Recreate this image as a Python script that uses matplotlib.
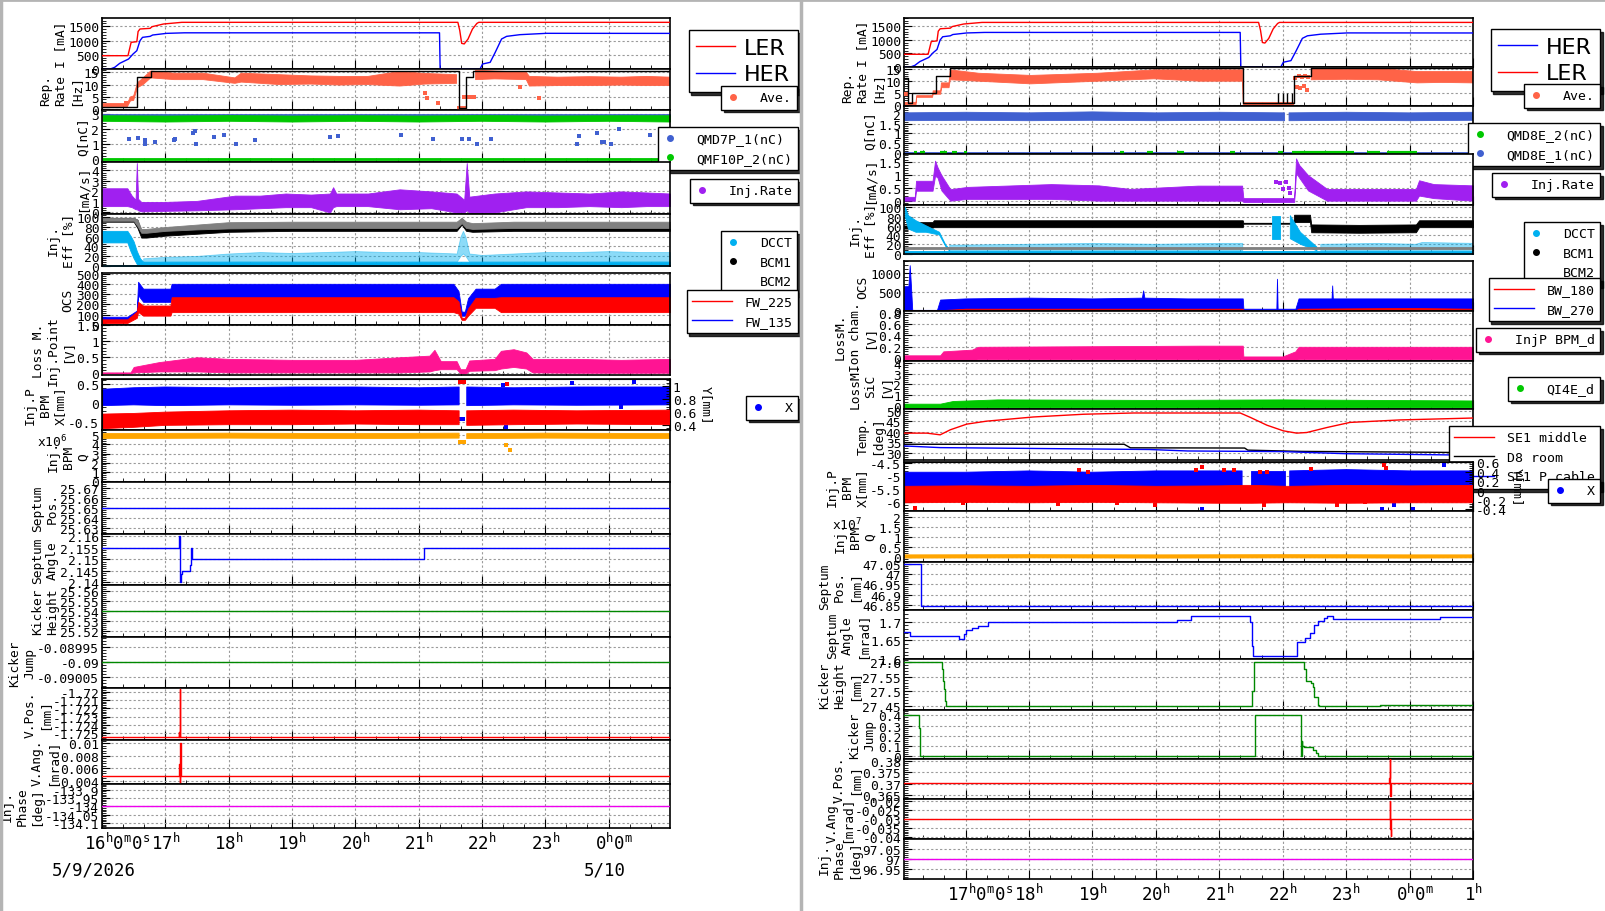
import numpy as np
import matplotlib.pyplot as plt
import matplotlib.transforms as mtrans
from matplotlib.lines import Line2D
from matplotlib.ticker import AutoMinorLocator, FixedLocator, FuncFormatter, MultipleLocator

plt.rcParams['font.family'] = 'DejaVu Sans Mono'
plt.rcParams['mathtext.fontset'] = 'dejavusans'

nan = np.nan

# ---------------- time axes (hours; 24 = 0h of 5/10) ----------------
l_xlim = (16.0, 24.97)
r_xlim = (16.03, 25.0)
l_hours = [16, 17, 18, 19, 20, 21, 22, 23, 24]
l_hour_labels = [r'$\mathtt{16^{h}0^{m}0^{s}}$', r'$\mathtt{17^{h}}$', r'$\mathtt{18^{h}}$',
                 r'$\mathtt{19^{h}}$', r'$\mathtt{20^{h}}$', r'$\mathtt{21^{h}}$',
                 r'$\mathtt{22^{h}}$', r'$\mathtt{23^{h}}$', r'$\mathtt{0^{h}0^{m}}$']
l_date_ticks = [16, 24]
l_dates = ['5/9/2026', '5/10']
r_hours = [17, 18, 19, 20, 21, 22, 23, 24, 25]
r_hour_labels = [r'$\mathtt{17^{h}0^{m}0^{s}}$', r'$\mathtt{18^{h}}$', r'$\mathtt{19^{h}}$',
                 r'$\mathtt{20^{h}}$', r'$\mathtt{21^{h}}$', r'$\mathtt{22^{h}}$',
                 r'$\mathtt{23^{h}}$', r'$\mathtt{0^{h}0^{m}}$', r'$\mathtt{1^{h}}$']

# ---------------- beam currents (both panels) ----------------
t_ler = [16.0, 16.41, 16.46, 16.55, 16.57, 16.6, 16.76, 16.79, 16.97, 17.26, 21.62, 21.65,
         21.68, 21.72, 21.78, 21.85, 21.92, 21.95, 25.0]
i_ler = [467, 467, 936, 958, 1316, 1404, 1427, 1485, 1579, 1638, 1638, 1350,
         900, 880, 1050, 1400, 1600, 1638, 1638]
t_her = [16.0, 16.13, 16.2, 16.28, 16.42, 16.49, 16.55, 16.6, 16.64, 16.76, 16.8, 17.02, 17.3,
         21.33, 21.34, 21.97, 22.01, 22.13, 22.21, 22.26, 22.31, 22.39, 22.6, 23.02, 25.0]
i_her = [0, 0, 58, 199, 351, 526, 643, 994, 1111, 1146, 1193, 1251, 1270,
         1270, 0, 0, 175, 234, 585, 818, 1053, 1146, 1205, 1252, 1250]

# ---------------- LER injection (left) ----------------
l_rep_t = [16.0, 16.4, 16.45, 16.5, 16.56, 16.65, 16.77, 17.14, 17.6, 18.1, 18.2, 18.8, 19.3, 19.75,
           20.2, 20.7, 21.1, 21.6, 21.62, 21.86, 21.9, 22.2, 22.7, 22.75, 23.2, 23.7, 24.2, 24.6, 24.97]
l_rep_lo = [1.0, 1.0, 3.4, 3.6, 8.7, 10.0, 12.7, 12.0, 12.0, 10.5, 11.0, 10.0, 10.2, 9.8,
            10.0, 9.4, 10.2, 10.5, nan, nan, 12.0, 12.3, 12.0, 9.4, 9.6, 9.6, 9.8, 9.6, 9.6]
l_rep_hi = [2.3, 2.3, 5.0, 5.4, 10.7, 12.7, 15.5, 14.6, 14.6, 12.7, 14.6, 14.0, 13.5, 13.3,
            13.3, 15.3, 14.5, 14.0, nan, nan, 15.8, 15.5, 15.0, 13.3, 13.0, 13.2, 13.0, 13.3, 13.0]
l_rep_dot_t = [16.38, 21.1, 21.13, 21.3, 21.64, 21.66, 21.68, 21.7, 21.72, 21.74, 21.72, 21.76,
               21.8, 21.84, 21.88, 22.6, 22.9]
l_rep_dot_v = [2.6, 6.4, 4.7, 2.6, 0.7, 0.7, 0.7, 0.7, 0.7, 0.7, 5.0, 5.0, 5.0, 5.0, 5.0, 9.0, 4.7]
l_set_t = [16.0, 16.55, 16.78, 21.64, 21.75, 21.86, 24.97]
l_set_v = [1.0, 12.9, 15.5, 0.6, 12.9, 15.5, 15.5]

l_q_t = [16.0, 17.0, 18.0, 19.0, 20.0, 21.0, 22.0, 23.0, 24.0, 24.97]
l_qg_lo = [2.55, 2.5, 2.55, 2.5, 2.55, 2.5, 2.55, 2.5, 2.55, 2.5]
l_qg_hi = [2.92, 2.9, 2.93, 2.9, 2.92, 2.9, 2.93, 2.9, 2.92, 2.92]
l_qb_lo = [2.88, 2.89, 2.88, 2.89, 2.88, 2.89, 2.88, 2.89, 2.88, 2.89]
l_qb_hi = [3.0, 3.0, 3.0, 3.0, 3.0, 3.0, 3.0, 3.0, 3.0, 3.0]
l_q0_lo = [-0.05, -0.05, -0.05, -0.05, -0.05, -0.05, -0.05, -0.05, -0.05, -0.05]
l_q0_hi = [0.07, 0.07, 0.07, 0.07, 0.07, 0.07, 0.07, 0.07, 0.07, 0.07]
l_qdot_t = [16.43, 16.57, 16.68, 16.68, 16.83, 17.13, 17.15, 17.44, 17.47, 17.48, 17.77, 17.92, 18.12,
            18.41, 19.6, 19.73, 20.72, 21.23, 21.69, 21.8, 21.92, 22.15, 23.5, 23.54, 23.81, 23.9,
            23.93, 24.04, 24.16, 24.66]
l_qdot_v = [1.33, 1.38, 1.29, 1.0, 1.11, 1.27, 1.31, 1.73, 1.84, 0.98, 1.47, 1.58, 0.98,
            1.27, 1.47, 1.53, 1.62, 1.31, 1.31, 1.31, 0.98, 1.31, 0.98, 1.51, 1.71, 1.11,
            1.11, 0.98, 2.0, 1.58]

l_inj_t = [16.0, 16.4, 16.47, 16.53, 16.55, 16.57, 16.62, 17.0, 17.5, 18.1, 18.5, 18.9, 19.3, 19.6,
           19.65, 19.7, 20.2, 20.7, 21.2, 21.6, 21.72, 21.76, 21.8, 22.2, 22.7, 23.2, 23.7, 24.2,
           24.6, 24.97]
l_inj_lo = [0.6, 0.6, 0.5, 0.3, 0.3, 0.2, 0.1, 0.15, 0.2, 0.3, 0.4, 0.5, 0.5, 0.0,
            0.5, 0.6, 0.6, 0.3, 0.4, 0.0, 0.0, 0.2, 0.0, 0.0, 0.5, 0.5, 0.6, 0.5, 0.6, 0.6]
l_inj_hi = [2.3, 2.3, 1.6, 1.2, 4.7, 1.3, 1.0, 1.0, 1.1, 1.6, 1.6, 1.8, 1.7, 1.8,
            2.4, 1.8, 1.8, 2.2, 2.0, 1.8, 1.2, 4.7, 1.5, 1.8, 2.0, 1.9, 1.8, 2.0, 1.9, 1.8]

l_eff_t = [16.0, 16.5, 16.56, 16.62, 16.7, 17.0, 17.5, 18.0, 19.0, 20.0, 21.0, 21.6, 21.68, 21.75,
           21.85, 22.5, 23.0, 24.0, 24.97]
l_bcm1_lo = [91, 91, 78, 58, 58, 62, 66, 70, 72, 72, 72, 72, 85, 72, 70, 72, 72, 72, 72]
l_bcm1_hi = [99, 99, 95, 70, 70, 74, 80, 85, 87, 87, 87, 87, 98, 88, 84, 87, 87, 87, 87]
l_bcm2_lo = [93, 93, 82, 68, 68, 72, 75, 77, 78, 78, 78, 78, 88, 78, 76, 78, 78, 78, 78]
l_bcm2_hi = [99, 99, 95, 76, 76, 80, 85, 90, 91, 91, 91, 91, 99, 91, 88, 91, 91, 91, 91]
l_dcct_t = [16.0, 16.4, 16.45, 16.5, 16.55, 16.6, 16.65, 24.97]
l_dcct_lo = [48, 48, 30, 15, 3, 0, 0, 0]
l_dcct_hi = [72, 72, 62, 50, 30, 15, 8, 8]
l_dcct0_t = [16.0, 24.97]
l_dcct0_lo = [-1, -1]
l_dcct0_hi = [2, 2]
l_dcct_sp_t = [16.65, 17.0, 17.5, 18.0, 18.5, 19.0, 19.5, 20.0, 20.5, 21.0, 21.6, 21.66, 21.7, 21.74,
               21.8, 22.0, 22.5, 23.0, 23.5, 24.0, 24.5, 24.97]
l_dcct_sp_lo = [6, 8, 8, 8, 9, 8, 8, 9, 8, 8, 8, 20, 25, 20, 8, 8, 8, 9, 8, 8, 9, 8]
l_dcct_sp_hi = [15, 18, 20, 25, 28, 26, 28, 30, 28, 28, 25, 60, 72, 60, 25, 22, 25, 28, 28, 30, 28, 28]

l_ocs_t = [16.0, 16.4, 16.55, 16.57, 16.65, 17.08, 17.1, 21.55, 21.63, 21.68, 21.73, 21.78, 21.9,
           22.2, 22.3, 24.97]
l_fw135_lo = [30, 30, 100, 290, 225, 225, 255, 255, 200, 90, 90, 150, 225, 225, 255, 255]
l_fw135_hi = [80, 80, 140, 420, 353, 353, 400, 400, 330, 130, 130, 260, 353, 353, 400, 400]
l_fw225_lo = [20, 20, 70, 127, 91, 91, 125, 125, 110, 50, 50, 90, 167, 167, 125, 125]
l_fw225_hi = [55, 55, 130, 225, 189, 189, 270, 270, 230, 70, 70, 160, 264, 264, 270, 270]

l_loss_t = [16.0, 16.45, 16.5, 16.9, 17.5, 18.0, 19.0, 20.0, 20.7, 21.17, 21.25, 21.35, 21.6, 21.66,
            21.74, 21.8, 22.2, 22.3, 22.5, 22.7, 22.8, 23.5, 24.2, 24.97]
l_loss_lo = [0.0, 0.0, 0.03, 0.06, 0.06, 0.03, 0.03, 0.03, 0.03, 0.06, 0.1, 0.13, 0.13, 0.0,
             0.0, 0.08, 0.1, 0.15, 0.2, 0.15, 0.03, 0.02, 0.02, 0.02]
l_loss_hi = [0.03, 0.03, 0.2, 0.35, 0.5, 0.45, 0.42, 0.42, 0.5, 0.55, 0.73, 0.38, 0.38, 0.13,
             0.13, 0.4, 0.45, 0.7, 0.75, 0.65, 0.45, 0.45, 0.42, 0.45]

l_bpm_t = [16.0, 16.5, 17.0, 18.0, 19.0, 20.0, 21.0, 21.64, 21.65, 21.75, 21.76, 22.5, 23.5, 24.97]
l_bx_lo = [-0.07, -0.05, -0.07, -0.05, -0.06, -0.05, -0.06, -0.05, nan, nan, -0.07, -0.05, -0.06, -0.05]
l_bx_hi = [0.36, 0.4, 0.42, 0.4, 0.42, 0.42, 0.4, 0.42, nan, nan, 0.42, 0.4, 0.42, 0.42]
l_by_lo = [0.35, 0.37, 0.40, 0.41, 0.41, 0.42, 0.41, 0.41, nan, nan, 0.4, 0.41, 0.42, 0.41]
l_by_hi = [0.57, 0.58, 0.60, 0.62, 0.63, 0.62, 0.63, 0.62, nan, nan, 0.62, 0.63, 0.62, 0.63]
l_bxdot_t = [21.66, 21.7, 22.33, 22.38, 23.42, 24.2, 24.4]
l_bxdot_v = [-0.42, -0.42, 0.47, -0.64, 0.53, -0.11, 0.55]
l_bydot_t = [21.66, 21.69, 21.72, 22.4]
l_bydot_v = [1.05, 1.05, 1.05, 1.02]

l_bq_t = [16.0, 18.0, 20.0, 21.64, 21.65, 21.75, 21.76, 23.0, 24.97]
l_bq_lo = [4.65, 4.7, 4.65, 4.7, nan, nan, 4.65, 4.7, 4.65]
l_bq_hi = [5.2, 5.25, 5.2, 5.25, nan, nan, 5.2, 5.25, 5.2]
l_bqdot_t = [21.66, 21.69, 21.72, 22.38, 22.45]
l_bqdot_v = [4.3, 4.3, 4.3, 3.9, 3.4]

l_flat_t = [16.0, 24.97]
l_sp_v = [25.65, 25.65]
l_sa_t = [16.0, 17.22, 17.23, 17.25, 17.27, 17.39, 17.41, 17.42, 21.08, 24.97]
l_sa_v = [2.155, 2.16, 2.14, 2.1435, 2.145, 2.1475, 2.155, 2.15, 2.155, 2.155]
l_kh_v = [25.54, 25.54]
l_kj_v = [-0.09, -0.09]
l_vp_t = [16.0, 17.21, 17.21, 17.215, 17.215, 17.23, 17.23, 17.23, 24.97]
l_vp_v = [-1.7254, -1.7254, -1.7248, -1.7248, -1.7254, -1.7254, -1.7197, -1.7254, -1.7254]
l_va_t = [16.0, 17.21, 17.21, 17.225, 17.225, 17.235, 17.235, 17.245, 17.245, 24.97]
l_va_v = [0.0048, 0.0048, 0.0066, 0.0066, 0.0035, 0.0035, 0.0101, 0.0101, 0.0048, 0.0048]
l_ph_v = [-134.0, -134.0]

# ---------------- HER injection (right) ----------------
r_rep_t = [16.03, 16.22, 16.23, 16.48, 16.49, 16.61, 16.62, 16.74, 16.76, 17.21, 18.03, 19.08, 19.97,
           20.7, 21.37, 21.38, 22.17, 22.18, 22.43, 22.45, 23.0, 23.5, 24.12, 24.5, 25.0]
r_rep_lo = [0.2, 0.2, 3.3, 3.3, 4.6, 4.6, 7.3, 7.3, 10.6, 10.0, 8.9, 10.0, 11.0,
            10.0, 10.0, 0.0, 0.0, nan, nan, 10.6, 10.8, 10.6, 9.3, 9.5, 9.3]
r_rep_hi = [1.2, 1.2, 4.0, 4.0, 6.0, 6.0, 9.3, 9.3, 14.7, 13.3, 12.4, 13.3, 14.7,
            14.7, 14.7, 1.2, 1.2, nan, nan, 15.4, 15.0, 15.4, 14.0, 14.0, 14.0]
r_rep_dot_t = [16.04, 16.06, 16.08, 22.2, 22.25, 22.3, 22.35, 22.4, 22.22, 22.28, 22.33, 22.38]
r_rep_dot_v = [4.8, 4.8, 4.8, 11.5, 12.0, 11.8, 12.2, 11.6, 7.5, 7.0, 8.0, 6.5]
r_set_t = [16.03, 16.1, 16.16, 16.53, 16.75, 21.37, 22.18, 22.45, 25.0]
r_set_v = [11.5, 0.8, 5.0, 12.0, 15.4, 0.8, 12.0, 15.4, 15.4]
r_setspk_t = [21.92, 22.0, 22.07, 22.15]

r_q_t = [16.03, 17.0, 18.0, 19.0, 20.0, 21.0, 22.03, 22.04, 22.09, 22.1, 23.0, 24.0, 25.0]
r_qb_lo = [1.65, 1.67, 1.65, 1.67, 1.65, 1.67, 1.65, nan, nan, 1.65, 1.67, 1.65, 1.67]
r_qb_hi = [2.05, 2.08, 2.05, 2.1, 2.05, 2.08, 2.05, nan, nan, 2.05, 2.08, 2.05, 2.08]
r_q0_t = [16.03, 25.0]
r_q0_lo = [-0.03, -0.03]
r_q0_hi = [0.05, 0.05]
r_qg_start = [16.18, 16.28, 16.6, 16.78, 16.97, 19.44, 19.86, 20.33, 21.17, 21.93, 22.14, 23.33, 23.64]
r_qg_end = [16.23, 16.36, 16.7, 16.86, 17.02, 19.5, 19.96, 20.44, 21.25, 22.01, 23.12, 23.54, 24.12]

r_inj_t = [16.03, 16.2, 16.22, 16.48, 16.52, 16.56, 16.62, 16.76, 17.03, 18.35, 19.1, 19.6, 20.66,
           21.36, 21.38, 22.18, 22.21, 22.26, 22.4, 22.7, 23.4, 24.1, 24.15, 24.38, 25.0]
r_inj_lo = [0.0, 0.0, 0.39, 0.39, 0.98, 0.9, 0.4, 0.0, 0.07, 0.07, 0.0, 0.0, 0.0,
            0.0, -0.05, -0.05, 1.1, 0.9, 0.4, 0.0, 0.0, 0.0, 0.2, 0.1, 0.0]
r_inj_hi = [0.15, 0.15, 0.78, 0.78, 1.57, 1.3, 1.0, 0.45, 0.54, 0.65, 0.6, 0.46, 0.59,
            0.59, 0.1, 0.1, 1.66, 1.4, 1.0, 0.46, 0.46, 0.46, 0.8, 0.65, 0.6]
r_injdot_t = [21.9, 21.95, 22.0, 22.05, 22.1, 22.12]
r_injdot_v = [0.72, 0.7, 0.45, 0.72, 0.5, 0.3]

r_bcm1_t = [16.03, 16.22, 16.23, 16.48, 16.5, 20.7, 21.37, 21.38, 22.17, 22.18, 22.43, 22.45, 23.2,
            24.1, 24.15, 25.0]
r_bcm1_lo = [54, 54, 56, 56, 57, 57, 57, 64.5, 64.5, 68, 68, 46, 45, 46, 57, 57]
r_bcm1_hi = [60.6, 60.6, 68, 68, 72, 72, 72, 66.5, 66.5, 84, 84, 63, 62, 63, 72, 72]
r_flat_t = [16.03, 25.0]
r_bcm2_lo = [10.5, 10.5]
r_bcm2_hi = [13.5, 13.5]
r_dcct0_lo = [-0.5, -0.5]
r_dcct0_hi = [6, 6]
r_dcct_t = [16.05, 16.1, 16.22, 16.38, 16.59, 16.69, 16.75, 16.76, 21.82, 21.83, 21.95, 21.96, 22.11,
            22.12, 22.28, 22.54]
r_dcct_lo = [80, 53, 46, 46, 40, 15, 5, nan, nan, 32, 32, nan, nan, 32, 20, 6]
r_dcct_hi = [100, 82, 71, 60, 46, 18, 10, nan, nan, 82, 82, nan, nan, 82, 46, 14]
r_dcct_sp_t = [16.75, 18.0, 19.0, 20.0, 21.0, 21.37, 21.38, 22.55, 22.6, 23.5, 24.1, 24.2, 25.0]
r_dcct_sp_lo = [6, 6, 6, 6, 6, 6, nan, nan, 6, 6, 6, 6, 6]
r_dcct_sp_hi = [18, 20, 22, 20, 22, 22, nan, nan, 20, 22, 20, 24, 22]

r_ocs_t = [16.03, 16.1, 16.12, 16.14, 16.16, 16.2, 16.55, 16.6, 17.0, 18.0, 19.0, 19.78, 19.8, 19.82,
           20.5, 21.37, 21.38, 21.9, 21.91, 21.92, 22.2, 22.25, 22.77, 22.78, 22.79, 23.5, 24.5, 25.0]
r_bw270_lo = [0, 0, 0, 0, 0, 0, 0, 20, 30, 30, 30, 30, 30, 30,
              30, 30, 0, 0, 0, 0, 0, 30, 30, 30, 30, 30, 30, 30]
r_bw270_hi = [650, 650, 1200, 650, 30, 30, 30, 300, 330, 350, 330, 350, 540, 350,
              330, 330, 60, 60, 845, 60, 60, 330, 330, 670, 330, 330, 330, 330]
r_bw180_t = [16.03, 16.6, 17.0, 20.0, 21.37, 21.38, 22.2, 22.25, 24.0, 25.0]
r_bw180_lo = [0, 0, 0, 0, 0, 0, 0, 0, 0, 0]
r_bw180_hi = [20, 20, 60, 60, 60, 15, 15, 60, 80, 60]

r_ion_t = [16.03, 16.6, 16.65, 17.1, 17.2, 20.7, 21.37, 21.38, 22.0, 22.2, 22.25, 25.0]
r_ion_lo = [-0.03, -0.03, -0.03, -0.03, -0.02, -0.02, -0.02, -0.03, -0.03, -0.03, -0.02, -0.02]
r_ion_hi = [0.05, 0.05, 0.12, 0.15, 0.2, 0.22, 0.22, 0.03, 0.03, 0.12, 0.2, 0.2]

r_sic_t = [16.03, 16.6, 16.8, 17.5, 20.0, 22.0, 25.0]
r_sic_lo = [-0.25, -0.25, -0.15, -0.15, -0.15, -0.15, -0.15]
r_sic_hi = [0.2, 0.2, 0.45, 0.6, 0.55, 0.6, 0.5]

r_se1m_t = [16.03, 16.39, 16.6, 16.76, 17.02, 17.33, 18.07, 18.86, 19.65, 21.33, 21.49, 21.75, 22.01,
            22.22, 22.38, 22.7, 23.06, 23.85, 24.37, 25.0]
r_se1m_v = [39.3, 39.3, 38.5, 40.9, 43.6, 45.0, 47.0, 48.3, 48.9, 48.9, 46.8, 43.1, 40.4,
            39.3, 39.6, 42.0, 44.4, 45.6, 46.0, 46.5]
r_d8_t = [16.03, 19.5, 19.6, 21.4, 21.45, 22.3, 24.3, 25.0]
r_d8_v = [34.0, 34.0, 32.3, 32.2, 31.2, 30.6, 30.2, 30.0]
r_se1p_t = [16.03, 16.6, 18.07, 19.9, 20.5, 22.0, 23.0, 25.0]
r_se1p_v = [33.2, 32.4, 32.0, 31.5, 30.8, 30.5, 29.5, 28.8]

r_bpm_t = [16.03, 17.0, 18.0, 19.0, 20.0, 21.0, 21.36, 21.37, 21.48, 21.5, 22.04, 22.05, 22.1, 22.11,
           23.0, 24.0, 25.0]
r_bx_lo = [-5.45, -5.45, -5.5, -5.45, -5.5, -5.45, -5.45, nan, nan, -5.45, -5.45, nan, nan, -5.45,
           -5.45, -5.5, -5.45]
r_bx_hi = [-4.85, -4.85, -4.8, -4.85, -4.8, -4.8, -4.8, nan, nan, -4.8, -4.8, nan, nan, -4.8,
           -4.75, -4.8, -4.8]
r_by_lo = [-0.25, -0.24, -0.25, -0.24, -0.25, -0.26, -0.26, -0.26, -0.26, -0.26, -0.25, -0.25, -0.25,
           -0.25, -0.26, -0.25, -0.25]
r_by_hi = [0.1, 0.11, 0.1, 0.12, 0.1, 0.11, 0.12, 0.12, 0.12, 0.12, 0.1, 0.1, 0.1, 0.1, 0.12, 0.11, 0.12]
r_bydot_t = [16.2, 16.96, 17.0, 18.46, 18.79, 18.93, 19.38, 19.52, 19.98, 20.64, 20.73, 21.07, 21.23,
             21.65, 21.7, 21.75, 22.44, 22.86, 23.3, 23.6, 23.63]
r_bydot_v = [-0.38, -0.27, -0.23, -0.29, 0.43, 0.39, -0.27, -0.2, -0.31, 0.43, 0.5, 0.43, 0.43,
             0.39, -0.3, 0.39, 0.46, -0.31, -0.24, 0.55, 0.47]
r_bxdot_t = [20.73, 23.57, 23.75, 24.05, 24.54]
r_bxdot_v = [-6.26, -6.26, -6.1, -6.24, -4.56]

r_bq_t = [16.03, 18.0, 20.0, 22.0, 24.0, 25.0]
r_bq_lo = [-0.04, -0.03, -0.04, -0.03, -0.04, -0.03]
r_bq_hi = [0.12, 0.13, 0.12, 0.13, 0.12, 0.12]

r_sp_t = [16.03, 16.3, 25.0]
r_sp_v = [47.05, 46.845, 46.845]
r_sa_t = [16.03, 16.12, 16.9, 16.97, 17.0, 17.1, 17.2, 17.35, 17.4, 20.33, 20.45, 20.55, 21.49, 21.51,
          21.53, 22.22, 22.35, 22.43, 22.5, 22.56, 22.65, 22.7, 22.8, 24.48, 25.0]
r_sa_v = [1.671, 1.661, 1.654, 1.667, 1.6775, 1.682, 1.689, 1.698, 1.7, 1.705, 1.703, 1.716, 1.7, 1.636,
          1.609, 1.646, 1.656, 1.6695, 1.692, 1.7007, 1.7088, 1.714, 1.708, 1.711, 1.711]
r_kh_t = [16.03, 16.63, 16.645, 16.66, 16.675, 16.69, 21.52, 21.54, 22.34, 22.37, 22.45, 22.48, 22.5,
          22.55, 22.58, 23.54, 25.0]
r_kh_v = [27.6, 27.577, 27.537, 27.508, 27.467, 27.448, 27.5, 27.6, 27.577, 27.537, 27.53, 27.516,
          27.48, 27.453, 27.448, 27.452, 27.452]
r_kj_t = [16.03, 16.27, 16.29, 21.56, 22.29, 22.3, 22.31, 22.33, 22.4, 22.47, 22.52, 22.55, 25.0]
r_kj_v = [0.4, 0.28, 0.0, 0.4, 0.0, 0.15, 0.1, 0.09, 0.09, 0.06, 0.03, 0.0, 0.0]
r_vp_t = [16.03, 23.68, 23.68, 23.685, 23.685, 23.69, 23.69, 23.7, 23.7, 25.0]
r_vp_v = [0.3703, 0.3703, 0.3726, 0.3726, 0.3807, 0.3807, 0.3646, 0.3646, 0.3703, 0.3703]
r_va_t = [16.03, 23.69, 23.69, 23.695, 23.695, 23.7, 23.7, 23.705, 23.705, 25.0]
r_va_v = [-0.03, -0.03, -0.0198, -0.0198, -0.0353, -0.0353, -0.0392, -0.0392, -0.03, -0.03]
r_ph_v = [97.0, 97.0]

# ---------------- colours ----------------
RED, BLUE, GREEN = '#FF0000', '#0000FF', '#00C800'
TOMATO, QBLUE, PURPLE = '#FF6347', '#4060D0', '#A020F0'
CYAN, GRAY, PINK, ORANGE = '#00B0F0', '#808080', '#FF1493', '#FFA500'
KGREEN, MAGENTA = '#008800', '#EE00EE'

# ---------------- layout (figure pixels) ----------------
W, H = 1606, 912
LX = (102, 670)
RX = (904, 1473)
L_ROWS = [(19, 70), (70, 111), (111, 163), (163, 215), (215, 267), (274, 326), (326, 376), (380, 431),
          (431, 483), (483, 535), (535, 586), (586, 638), (638, 689), (689, 741), (741, 785), (785, 829)]
R_ROWS = [(19, 68), (68, 107), (107, 155), (155, 206), (206, 255), (262, 312), (312, 362), (362, 410),
          (410, 461), (463, 512), (512, 563), (563, 611), (611, 660), (660, 711), (711, 760), (760, 800),
          (800, 840), (840, 880)]
FS = 9.3

fig = plt.figure(figsize=(W / 100, H / 100), dpi=100)
fmt = FuncFormatter(lambda v, p: '%g' % v)


def panel(xs, rows, i, xlim, ylim, yticks, ylabel):
    top, bot = rows[i]
    ax = fig.add_axes([xs[0] / W, 1 - bot / H, (xs[1] - xs[0]) / W, (bot - top) / H])
    ax.set_xlim(xlim)
    ax.set_ylim(ylim)
    ax.xaxis.set_major_locator(MultipleLocator(1))
    ax.xaxis.set_minor_locator(MultipleLocator(1 / 3))
    ax.yaxis.set_major_locator(FixedLocator(yticks))
    ax.yaxis.set_minor_locator(AutoMinorLocator(5))
    ax.yaxis.set_major_formatter(fmt)
    ax.tick_params(which='both', direction='in', top=False, right=False, labelbottom=False,
                   labelsize=FS, pad=2)
    ax.tick_params(axis='y', which='major', length=5.5)
    ax.tick_params(axis='y', which='minor', length=3)
    ax.tick_params(axis='x', which='major', length=6.5)
    ax.tick_params(axis='x', which='minor', length=3)
    ax.set_axisbelow(True)
    ax.grid(True, which='major', color='#9a9a9a', linestyle=(0, (2, 2)), linewidth=0.8)
    ax.set_ylabel(ylabel, fontsize=FS, labelpad=1)
    for s in ax.spines.values():
        s.set_linewidth(1.2)
    return ax


def twin(ax, ylim, yticks, label):
    a2 = ax.twinx()
    a2.set_ylim(ylim)
    a2.yaxis.set_major_locator(FixedLocator(yticks))
    a2.yaxis.set_minor_locator(AutoMinorLocator(5))
    a2.yaxis.set_major_formatter(fmt)
    a2.tick_params(axis='y', which='both', direction='in', labelsize=FS, pad=2)
    a2.tick_params(axis='y', which='major', length=5.5)
    a2.tick_params(axis='y', which='minor', length=3)
    a2.set_ylabel(label, rotation=270, va='bottom', fontsize=FS, labelpad=3)
    return a2


def band(ax, t, lo, hi, color, alpha=1.0):
    ax.fill_between(t, lo, hi, color=color, alpha=alpha, lw=0.6, zorder=2)


def dots(ax, t, v, color):
    ax.scatter(t, v, s=7, marker='s', color=color, lw=0, zorder=3)


def line(ax, t, v, color, steps=False):
    ax.plot(t, v, color=color, lw=1.0, drawstyle='steps-post' if steps else 'default', zorder=3)


def dot_h(c):
    return Line2D([], [], ls='none', marker='o', ms=4, color=c)


def line_h(c):
    return Line2D([], [], color=c, lw=1.0)


def legend(ax, handles, labels, right, top, **kw):
    opts = dict(loc='upper right', bbox_to_anchor=(right / W, 1 - top / H),
                bbox_transform=fig.transFigure, fancybox=False,
                shadow={'color': 'black', 'alpha': 0.8}, framealpha=1, edgecolor='black',
                fontsize=9.5, borderpad=0.4, handlelength=1.0, handletextpad=1.5, borderaxespad=0)
    opts.update(kw)
    leg = ax.legend(handles, labels, **opts)
    leg.get_frame().set_linewidth(1.0)
    leg.set_zorder(10)


def hour_axis(ax, ticks, labels, date_ticks=(), dates=()):
    tr = mtrans.blended_transform_factory(ax.transData, ax.transAxes)
    for t, s in zip(ticks, labels):
        n = s.count('^')
        dx = 15 if n == 3 else (5 if n == 2 else 0)
        off = mtrans.offset_copy(tr, fig=fig, x=dx, y=-4, units='dots')
        ax.text(t, 0, s, transform=off, ha='center', va='top', fontsize=12.5)
    for t, s in zip(date_ticks, dates):
        off = mtrans.offset_copy(tr, fig=fig, x=-len(s), y=-33, units='dots')
        ax.text(t, 0, s, transform=off, ha='center', va='top', fontsize=12.5)


LEG_BIG = dict(prop={'family': 'DejaVu Sans', 'size': 16}, handlelength=1.75,
               handletextpad=0.4, labelspacing=0.3, borderpad=0.35)
LEG_LINE = dict(handlelength=3.0, handletextpad=1.0)

# ================= left panel: LER =================
ax = panel(LX, L_ROWS, 0, l_xlim, (0, 1790), [0, 500, 1000, 1500], 'I [mA]')
line(ax, t_ler, i_ler, RED)
line(ax, t_her, i_her, BLUE)
legend(ax, [line_h(RED), line_h(BLUE)], ['LER', 'HER'], 798, 31, **LEG_BIG)

ax = panel(LX, L_ROWS, 1, l_xlim, (-0.3, 16.3), [0, 5, 10, 15], 'Rep.\nRate\n[Hz]')
band(ax, l_rep_t, l_rep_lo, l_rep_hi, TOMATO)
dots(ax, l_rep_dot_t, l_rep_dot_v, TOMATO)
line(ax, l_set_t, l_set_v, 'black', steps=True)
legend(ax, [dot_h(TOMATO)], ['Ave.'], 797, 87)

ax = panel(LX, L_ROWS, 2, l_xlim, (-0.2, 3.27), [0, 1, 2, 3], 'Q[nC]')
band(ax, l_q_t, l_qb_lo, l_qb_hi, QBLUE)
band(ax, l_q_t, l_qg_lo, l_qg_hi, GREEN)
band(ax, l_q_t, l_q0_lo, l_q0_hi, GREEN)
dots(ax, l_qdot_t, l_qdot_v, QBLUE)
legend(ax, [dot_h(QBLUE), dot_h(GREEN)], ['QMD7P_1(nC)', 'QMF10P_2(nC)'], 798, 128)

ax = panel(LX, L_ROWS, 3, l_xlim, (-0.15, 4.8), [0, 1, 2, 3, 4], '[mA/s]')
band(ax, l_inj_t, l_inj_lo, l_inj_hi, PURPLE)
legend(ax, [dot_h(PURPLE)], ['Inj.Rate'], 798, 180)

ax = panel(LX, L_ROWS, 4, l_xlim, (-1, 107), [0, 20, 40, 60, 80, 100], 'Inj.\nEff [%]')
band(ax, l_eff_t, l_bcm1_lo, l_bcm1_hi, 'black')
band(ax, l_eff_t, l_bcm2_lo, l_bcm2_hi, GRAY)
band(ax, l_dcct_sp_t, l_dcct_sp_lo, l_dcct_sp_hi, CYAN, alpha=0.45)
band(ax, l_dcct0_t, l_dcct0_lo, l_dcct0_hi, CYAN)
band(ax, l_dcct_t, l_dcct_lo, l_dcct_hi, CYAN)
legend(ax, [dot_h(CYAN), dot_h('black'), Line2D([], [], ls='none')], ['DCCT', 'BCM1', 'BCM2'], 797, 232)

ax = panel(LX, L_ROWS, 5, l_xlim, (0, 505), [0, 100, 200, 300, 400, 500], 'OCS')
band(ax, l_ocs_t, l_fw135_lo, l_fw135_hi, BLUE)
band(ax, l_ocs_t, l_fw225_lo, l_fw225_hi, RED)
legend(ax, [line_h(RED), line_h(BLUE)], ['FW_225', 'FW_135'], 798, 291, **LEG_LINE)

ax = panel(LX, L_ROWS, 6, l_xlim, (-0.05, 1.5), [0, 0.5, 1, 1.5], 'Loss M.\nInj.Point\n[V]')
band(ax, l_loss_t, l_loss_lo, l_loss_hi, PINK)

ax = panel(LX, L_ROWS, 7, l_xlim, (-0.71, 0.63), [-0.5, 0, 0.5], 'Inj.P\nBPM\nX[mm]')
band(ax, l_bpm_t, l_bx_lo, l_bx_hi, BLUE)
dots(ax, l_bxdot_t, l_bxdot_v, BLUE)
a2 = twin(ax, (0.33, 1.1), [0.4, 0.6, 0.8, 1.0], 'Y[mm]')
band(a2, l_bpm_t, l_by_lo, l_by_hi, RED)
dots(a2, l_bydot_t, l_bydot_v, RED)
legend(a2, [dot_h(BLUE)], ['X'], 798, 397)

ax = panel(LX, L_ROWS, 8, l_xlim, (-0.15, 5.6), [0, 1, 2, 3, 4, 5], 'Inj.\nBPM\nQ')
band(ax, l_bq_t, l_bq_lo, l_bq_hi, ORANGE)
dots(ax, l_bqdot_t, l_bqdot_v, ORANGE)
ax.text(-0.114, 0.79, r'$\mathtt{x10^{6}}$', transform=ax.transAxes, ha='left', va='center', fontsize=FS)

ax = panel(LX, L_ROWS, 9, l_xlim, (25.624, 25.676), [25.63, 25.64, 25.65, 25.66, 25.67], 'Septum\nPos.')
line(ax, l_flat_t, l_sp_v, BLUE)

ax = panel(LX, L_ROWS, 10, l_xlim, (2.1388, 2.161), [2.14, 2.145, 2.15, 2.155, 2.16], 'Septum\nAngle')
line(ax, l_sa_t, l_sa_v, BLUE, steps=True)

ax = panel(LX, L_ROWS, 11, l_xlim, (25.514, 25.566), [25.52, 25.53, 25.54, 25.55, 25.56], 'Kicker\nHeight')
line(ax, l_flat_t, l_kh_v, KGREEN)

ax = panel(LX, L_ROWS, 12, l_xlim, (-0.0900857, -0.0899157), [-0.09005, -0.09, -0.08995], 'Kicker\nJump')
line(ax, l_flat_t, l_kj_v, KGREEN)

ax = panel(LX, L_ROWS, 13, l_xlim, (-1.72582, -1.71955),
           [-1.725, -1.724, -1.723, -1.722, -1.721, -1.72], 'V.Pos.\n[mm]')
line(ax, l_vp_t, l_vp_v, RED)

ax = panel(LX, L_ROWS, 14, l_xlim, (0.00347, 0.0105), [0.004, 0.006, 0.008, 0.01], 'V.Ang.\n[mrad]')
line(ax, l_va_t, l_va_v, RED)

ax = panel(LX, L_ROWS, 15, l_xlim, (-134.13, -133.866),
           [-134.1, -134.05, -134.0, -133.95, -133.9], 'Inj.\nPhase\n[deg]')
line(ax, l_flat_t, l_ph_v, MAGENTA)
hour_axis(ax, l_hours, l_hour_labels, l_date_ticks, l_dates)

# ================= right panel: HER =================
ax = panel(RX, R_ROWS, 0, r_xlim, (0, 1800), [0, 500, 1000, 1500], 'I [mA]')
line(ax, t_ler, i_ler, RED)
line(ax, t_her, i_her, BLUE)
legend(ax, [line_h(BLUE), line_h(RED)], ['HER', 'LER'], 1600, 30, **LEG_BIG)

ax = panel(RX, R_ROWS, 1, r_xlim, (-0.3, 15.9), [0, 5, 10, 15], 'Rep.\nRate\n[Hz]')
band(ax, r_rep_t, r_rep_lo, r_rep_hi, TOMATO)
dots(ax, r_rep_dot_t, r_rep_dot_v, TOMATO)
line(ax, r_set_t, r_set_v, 'black', steps=True)
ax.vlines(r_setspk_t, 0.8, 5.3, color='black', lw=1.0, zorder=3)
legend(ax, [dot_h(TOMATO)], ['Ave.'], 1600, 85)

ax = panel(RX, R_ROWS, 2, r_xlim, (-0.05, 2.4), [0, 0.5, 1, 1.5, 2], 'Q[nC]')
band(ax, r_q_t, r_qb_lo, r_qb_hi, QBLUE)
band(ax, r_q0_t, r_q0_lo, r_q0_hi, QBLUE)
ax.hlines([0.01] * len(r_qg_start), r_qg_start, r_qg_end, color=GREEN, lw=3, zorder=3)
legend(ax, [dot_h(GREEN), dot_h(QBLUE)], ['QMD8E_2(nC)', 'QMD8E_1(nC)'], 1600, 124)

ax = panel(RX, R_ROWS, 3, r_xlim, (-0.17, 1.83), [0, 0.5, 1, 1.5], '[mA/s]')
band(ax, r_inj_t, r_inj_lo, r_inj_hi, PURPLE)
dots(ax, r_injdot_t, r_injdot_v, PURPLE)
legend(ax, [dot_h(PURPLE)], ['Inj.Rate'], 1600, 174)

ax = panel(RX, R_ROWS, 4, r_xlim, (-1, 105), [0, 20, 40, 60, 80, 100], 'Inj.\nEff [%]')
band(ax, r_bcm1_t, r_bcm1_lo, r_bcm1_hi, 'black')
band(ax, r_dcct_sp_t, r_dcct_sp_lo, r_dcct_sp_hi, CYAN, alpha=0.45)
band(ax, r_flat_t, r_dcct0_lo, r_dcct0_hi, CYAN)
band(ax, r_dcct_t, r_dcct_lo, r_dcct_hi, CYAN)
band(ax, r_flat_t, r_bcm2_lo, r_bcm2_hi, GRAY)
legend(ax, [dot_h(CYAN), dot_h('black'), Line2D([], [], ls='none')], ['DCCT', 'BCM1', 'BCM2'], 1600, 223)

ax = panel(RX, R_ROWS, 5, r_xlim, (0, 1310), [0, 500, 1000], 'OCS')
band(ax, r_ocs_t, r_bw270_lo, r_bw270_hi, BLUE)
band(ax, r_bw180_t, r_bw180_lo, r_bw180_hi, RED)
legend(ax, [line_h(RED), line_h(BLUE)], ['BW_180', 'BW_270'], 1600, 279, **LEG_LINE)

ax = panel(RX, R_ROWS, 6, r_xlim, (-0.05, 0.83), [0, 0.2, 0.4, 0.6, 0.8], 'LossM.\nIon cham.\n[V]')
band(ax, r_ion_t, r_ion_lo, r_ion_hi, PINK)
legend(ax, [dot_h(PINK)], ['InjP BPM_d'], 1600, 329)

ax = panel(RX, R_ROWS, 7, r_xlim, (-0.3, 4.2), [0, 1, 2, 3, 4], 'LossM.\nSiC\n[V]')
band(ax, r_sic_t, r_sic_lo, r_sic_hi, GREEN)
legend(ax, [dot_h(GREEN)], ['QI4E_d'], 1600, 378)

ax = panel(RX, R_ROWS, 8, r_xlim, (26.5, 50.8), [30, 35, 40, 45, 50], 'Temp.\n[deg]')
line(ax, r_se1m_t, r_se1m_v, RED)
line(ax, r_d8_t, r_d8_v, 'black')
line(ax, r_se1p_t, r_se1p_v, BLUE)
legend(ax, [line_h(RED), line_h('black'), line_h(BLUE)], ['SE1 middle', 'D8 room', 'SE1 P.cable'],
       1600, 427, **LEG_LINE)

ax = panel(RX, R_ROWS, 9, r_xlim, (-6.33, -4.46), [-6, -5.5, -5, -4.5], 'Inj.P\nBPM\nX[mm]')
band(ax, r_bpm_t, r_bx_lo, r_bx_hi, BLUE)
dots(ax, r_bxdot_t, r_bxdot_v, BLUE)
a2 = twin(ax, (-0.435, 0.606), [-0.4, -0.2, 0, 0.2, 0.4, 0.6], 'Y[mm]')
band(a2, r_bpm_t, r_by_lo, r_by_hi, RED)
dots(a2, r_bydot_t, r_bydot_v, RED)
legend(a2, [dot_h(BLUE)], ['X'], 1600, 480)

ax = panel(RX, R_ROWS, 10, r_xlim, (-0.26, 2.28), [0, 0.5, 1, 1.5, 2], 'Inj.\nBPM\nQ')
band(ax, r_bq_t, r_bq_lo, r_bq_hi, ORANGE)
ax.text(-0.127, 0.745, r'$\mathtt{x10^{7}}$', transform=ax.transAxes, ha='left', va='center', fontsize=FS)

ax = panel(RX, R_ROWS, 11, r_xlim, (46.825, 47.06), [46.85, 46.9, 46.95, 47.0, 47.05], 'Septum\nPos.\n[mm]')
line(ax, r_sp_t, r_sp_v, BLUE, steps=True)

ax = panel(RX, R_ROWS, 12, r_xlim, (1.6, 1.731), [1.6, 1.65, 1.7], 'Septum\nAngle\n[mrad]')
line(ax, r_sa_t, r_sa_v, BLUE, steps=True)

ax = panel(RX, R_ROWS, 13, r_xlim, (27.435, 27.612), [27.45, 27.5, 27.55, 27.6], 'Kicker\nHeight\n[mm]')
line(ax, r_kh_t, r_kh_v, KGREEN, steps=True)

ax = panel(RX, R_ROWS, 14, r_xlim, (-0.03, 0.454), [0, 0.1, 0.2, 0.3, 0.4], 'Kicker\nJump')
line(ax, r_kj_t, r_kj_v, KGREEN, steps=True)

ax = panel(RX, R_ROWS, 15, r_xlim, (0.3633, 0.3807), [0.365, 0.37, 0.375, 0.38], 'V.Pos.\n[mm]')
line(ax, r_vp_t, r_vp_v, RED)

ax = panel(RX, R_ROWS, 16, r_xlim, (-0.0411, -0.0189), [-0.04, -0.035, -0.03, -0.025, -0.02], 'V.Ang.\n[mrad]')
line(ax, r_va_t, r_va_v, RED)

ax = panel(RX, R_ROWS, 17, r_xlim, (96.9, 97.1), [96.95, 97.0, 97.05], 'Inj.\nPhase\n[deg]')
line(ax, r_flat_t, r_ph_v, MAGENTA)
hour_axis(ax, r_hours, r_hour_labels)

# grey frame of the two screen captures
for xs, ys, lw in [((0, 1), (1 - 1 / H, 1 - 1 / H), 2.0), ((1.5 / W, 1.5 / W), (0, 1), 2.5),
                   ((801.5 / W, 801.5 / W), (0, 1), 2.5)]:
    fig.add_artist(Line2D(xs, ys, transform=fig.transFigure, color='#b4b4b4', lw=lw))

fig.savefig('out.png', dpi=100)
